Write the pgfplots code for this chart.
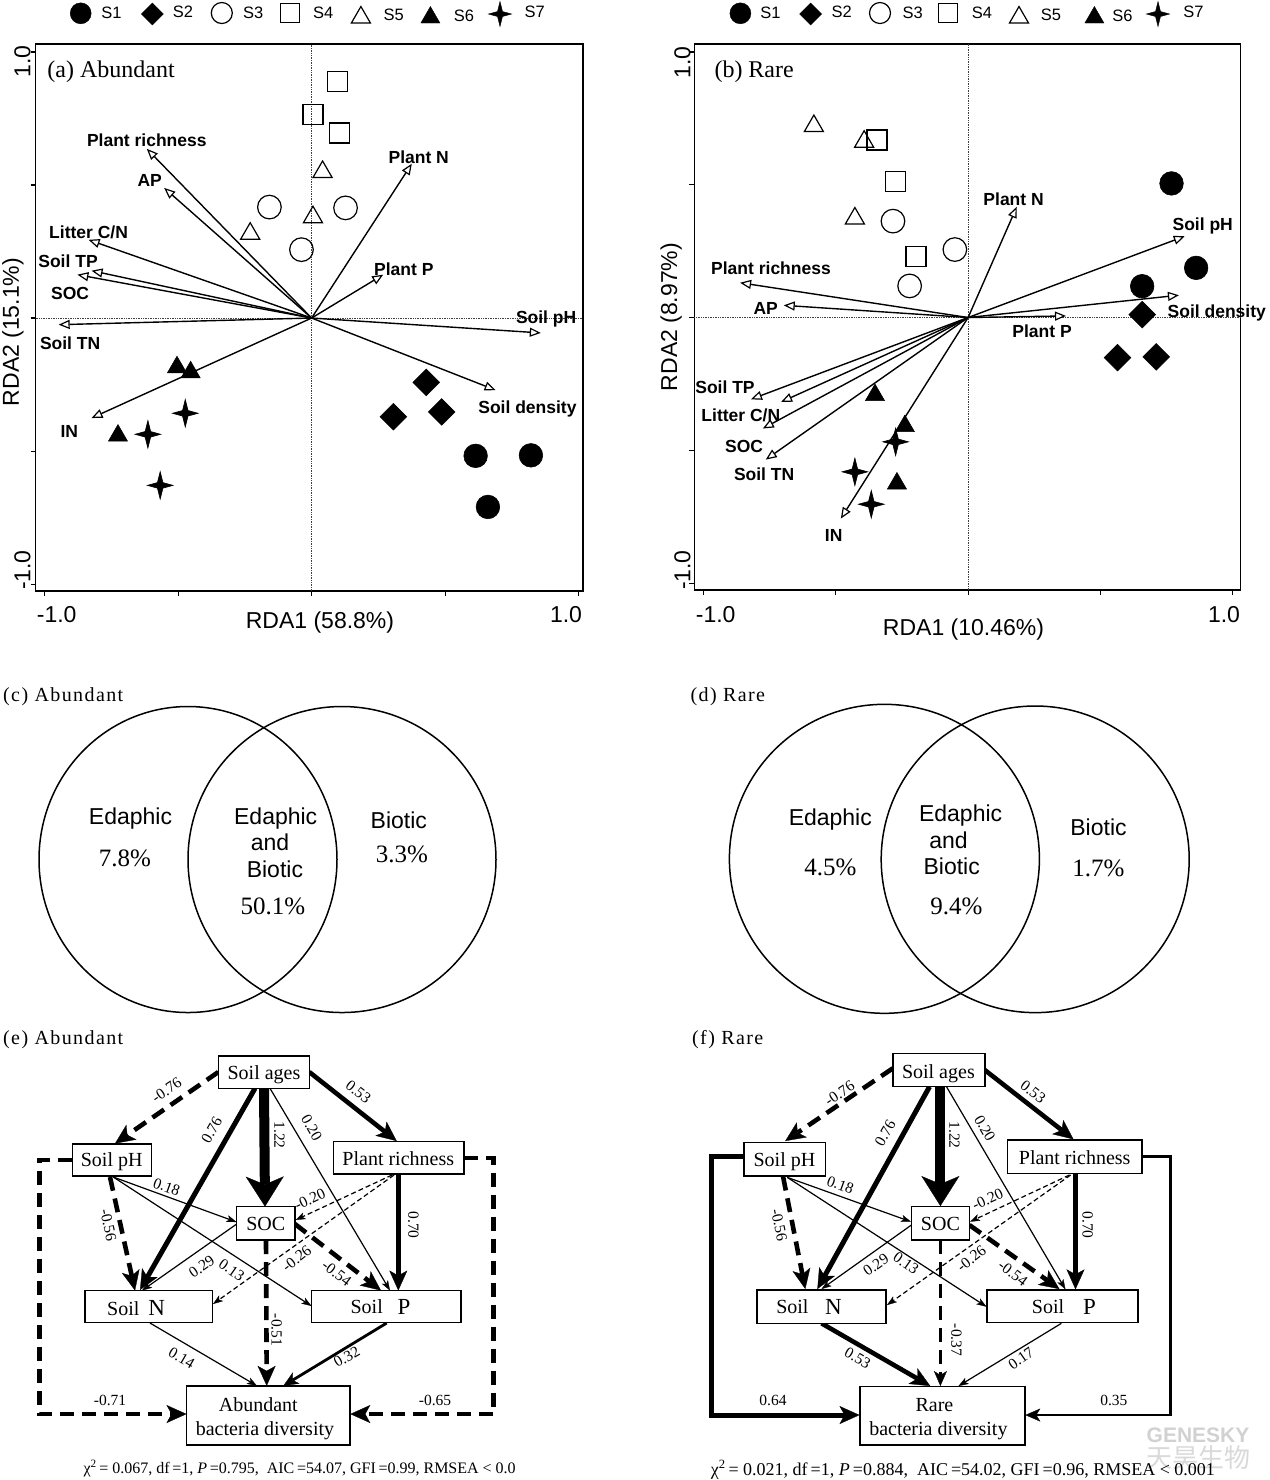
\documentclass[border=0pt]{standalone}
\usepackage{fontspec}
\setmainfont{Liberation Serif}
\newfontfamily\arial{Liberation Sans}
\newfontfamily\spaced[LetterSpace=7]{Liberation Serif}
\newfontfamily\cjk{Noto Sans CJK SC}
\usepackage{pgfplots}
\usepackage{pgfplotstable}
\pgfplotsset{compat=1.18}
\usetikzlibrary{arrows.meta}
\newcommand\fs[1]{\fontsize{#1}{#1}\selectfont}

\pgfdeclareplotmark{dia}{%
  \pgfpathmoveto{\pgfqpoint{0pt}{\pgfplotmarksize}}%
  \pgfpathlineto{\pgfqpoint{\pgfplotmarksize}{0pt}}%
  \pgfpathlineto{\pgfqpoint{0pt}{-\pgfplotmarksize}}%
  \pgfpathlineto{\pgfqpoint{-\pgfplotmarksize}{0pt}}%
  \pgfpathclose\pgfusepathqfillstroke}
\pgfdeclareplotmark{star4}{%
  \pgfpathmoveto{\pgfqpoint{0pt}{\pgfplotmarksize}}%
  \pgfpathlineto{\pgfqpoint{0.2\pgfplotmarksize}{0.2\pgfplotmarksize}}%
  \pgfpathlineto{\pgfqpoint{0.93\pgfplotmarksize}{0pt}}%
  \pgfpathlineto{\pgfqpoint{0.2\pgfplotmarksize}{-0.2\pgfplotmarksize}}%
  \pgfpathlineto{\pgfqpoint{0pt}{-\pgfplotmarksize}}%
  \pgfpathlineto{\pgfqpoint{-0.2\pgfplotmarksize}{-0.2\pgfplotmarksize}}%
  \pgfpathlineto{\pgfqpoint{-0.93\pgfplotmarksize}{0pt}}%
  \pgfpathlineto{\pgfqpoint{-0.2\pgfplotmarksize}{0.2\pgfplotmarksize}}%
  \pgfpathclose\pgfusepathqfillstroke}

% biplot vectors, panel (a)
\pgfplotstableread{
x y u v
0 0 -0.617 0.636
0 0 -0.552 0.489
0 0 -0.835 0.294
0 0 -0.824 0.178
0 0 -0.877 0.163
0 0 0.375 0.580
0 0 0.268 0.163
0 0 -0.947 -0.025
0 0 0.858 -0.056
0 0 0.689 -0.271
0 0 -0.824 -0.376
}\vecA
% biplot vectors, panel (b)
\pgfplotstableread{
x y u v
0 0 0.184 0.417
0 0 0.819 0.306
0 0 0.797 0.084
0 0 0.370 0.006
0 0 -0.862 0.131
0 0 -0.697 0.046
0 0 -0.821 -0.308
0 0 -0.707 -0.318
0 0 -0.776 -0.418
0 0 -0.765 -0.535
0 0 -0.481 -0.757
}\vecB

\pgfplotsset{
  rda/.style={anchor=north west, scale only axis, clip=false,
    tick pos=left, tick align=outside, major tick length=5pt,
    xtick={-1,-0.5,0,0.5,1}, ytick={-1,-0.5,0,0.5,1},
    xticklabels={}, yticklabels={},
    axis line style={line width=1.5pt, black},
    tick style={line width=1.1pt, black}},
  bivec/.style={black, line width=1.4pt, quiver={u=\thisrow{u}, v=\thisrow{v}},
    -{Triangle[length=11pt, width=9pt, fill=white, line width=1.2pt]}},
  s1/.style={only marks, mark=*, mark size=11.8pt, black, line width=0.6pt},
  s2/.style={only marks, mark=dia, mark size=13.3pt, black, line width=0.6pt, mark options={fill=black}},
  s3/.style={only marks, mark=o, mark size=11.8pt, black, line width=1.2pt},
  s4/.style={only marks, mark=square, mark size=10pt, black, line width=1.4pt},
  s5/.style={only marks, mark=triangle, mark size=11pt, black, line width=1.2pt},
  s6/.style={only marks, mark=triangle*, mark size=11pt, black, line width=0.6pt},
  s7/.style={only marks, mark=star4, mark size=13.8pt, black, line width=0.6pt, mark options={fill=black}},
}
\tikzset{
  lab/.style={font=\arial\bfseries\fs{17.5}, text height=12.5pt, text depth=0pt, inner sep=0pt},
  e1/.style={line width=1.2pt, -{Stealth[length=10pt,width=7pt,inset=2.5pt,line width=0.3pt]}},
  e2/.style={line width=2.8pt, -{Stealth[length=15pt,width=13pt,inset=4pt,line width=0.3pt]}},
  e3/.style={line width=4.6pt, -{Stealth[length=20pt,width=18pt,inset=5pt,line width=0.3pt]}},
  e4/.style={line width=10pt, -{Stealth[length=30pt,width=38pt,inset=8pt,line width=0.3pt]}},
  d1/.style={dash pattern=on 5pt off 3pt},
  d3/.style={dash pattern=on 14pt off 8pt},
  el/.style={font=\fs{15.5}, inner sep=0pt},
  bx/.style={line width=1.4pt, fill=white},
  bt/.style={font=\fs{20}, anchor=base, inner sep=0pt},
  ven/.style={font=\arial\fs{23}, anchor=base, inner sep=0pt},
  vpc/.style={font=\fs{25}, anchor=base, inner sep=0pt},
}

\begin{document}
\begin{tikzpicture}
\path[use as bounding box] (0pt,0pt) rectangle (1269pt,-1480pt);

% ---------------- panel (a)
\begin{axis}[rda, at={(35.7pt,-44pt)}, width=547.3pt, height=547pt,
  xmin=-1.033, xmax=1.016, ymin=-1.026, ymax=1.030]
\draw[densely dotted, black!75, line width=0.7pt] (axis cs:0,-1.026) -- (axis cs:0,1.030);
\draw[densely dotted, black!75, line width=0.7pt] (axis cs:-1.033,0) -- (axis cs:1.016,0);
\addplot[bivec] table {\vecA};
\addplot[s1] coordinates {(0.614,-0.518) (0.821,-0.516) (0.660,-0.710)};
\addplot[s2] coordinates {(0.429,-0.242) (0.306,-0.371) (0.487,-0.353)};
\addplot[s3] coordinates {(-0.158,0.417) (0.127,0.414) (-0.038,0.257)};
\addplot[s4] coordinates {(0.097,0.890) (0.005,0.765) (0.104,0.695)};
\addplot[s5] coordinates {(0.041,0.549) (0.005,0.379) (-0.230,0.317)};
\addplot[s6] coordinates {(-0.504,-0.185) (-0.453,-0.204) (-0.725,-0.442)};
\addplot[s7] coordinates {(-0.473,-0.358) (-0.613,-0.437) (-0.567,-0.629)};
\node[lab] at (axis cs:-0.617,0.668) {Plant richness};
\node[lab] at (axis cs:-0.606,0.517) {AP};
\node[lab] at (axis cs:-0.835,0.322) {Litter C/N};
\node[lab] at (axis cs:-0.912,0.212) {Soil TP};
\node[lab] at (axis cs:-0.904,0.094) {SOC};
\node[lab] at (axis cs:0.401,0.605) {Plant N};
\node[lab] at (axis cs:0.345,0.184) {Plant P};
\node[lab] at (axis cs:0.878,0.004) {Soil pH};
\node[lab] at (axis cs:-0.904,-0.095) {Soil TN};
\node[lab] at (axis cs:0.808,-0.334) {Soil density};
\node[lab] at (axis cs:-0.907,-0.427) {IN};
\end{axis}

% ---------------- panel (b)
\begin{axis}[rda, at={(694.3pt,-44pt)}, width=546pt, height=546pt,
  xmin=-1.035, xmax=1.029, ymin=-1.026, ymax=1.030]
\draw[densely dotted, black!75, line width=0.7pt] (axis cs:0,-1.026) -- (axis cs:0,1.030);
\draw[densely dotted, black!75, line width=0.7pt] (axis cs:-1.035,0) -- (axis cs:1.029,0);
\addplot[bivec] table {\vecB};
\addplot[s1] coordinates {(0.769,0.505) (0.862,0.187) (0.658,0.118)};
\addplot[s2] coordinates {(0.658,0.011) (0.565,-0.151) (0.711,-0.148)};
\addplot[s3] coordinates {(-0.284,0.363) (-0.050,0.256) (-0.221,0.119)};
\addplot[s4] coordinates {(-0.345,0.668) (-0.275,0.513) (-0.197,0.229)};
\addplot[s5] coordinates {(-0.583,0.721) (-0.393,0.662) (-0.428,0.373)};
\addplot[s6] coordinates {(-0.352,-0.292) (-0.239,-0.409) (-0.269,-0.625)};
\addplot[s7] coordinates {(-0.274,-0.468) (-0.428,-0.581) (-0.366,-0.703)};
\node[lab] at (axis cs:0.172,0.446) {Plant N};
\node[lab] at (axis cs:0.887,0.352) {Soil pH};
\node[lab] at (axis cs:0.940,0.025) {Soil density};
\node[lab] at (axis cs:0.280,-0.051) {Plant\hspace{5pt}P};
\node[lab] at (axis cs:-0.745,0.185) {Plant richness};
\node[lab] at (axis cs:-0.765,0.034) {AP};
\node[lab] at (axis cs:-0.919,-0.264) {Soil TP};
\node[lab] at (axis cs:-0.859,-0.368) {Litter C/N};
\node[lab] at (axis cs:-0.847,-0.483) {SOC};
\node[lab] at (axis cs:-0.771,-0.590) {Soil TN};
\node[lab] at (axis cs:-0.508,-0.820) {IN};
\end{axis}

% ---------------- canvas in pixel units
\begin{axis}[at={(0pt,0pt)}, anchor=north west, width=1269pt, height=1480pt,
  scale only axis, xmin=0, xmax=1269, ymin=0, ymax=1480, y dir=reverse,
  hide axis, clip=false]
% legends
\addplot[only marks, mark=*, mark size=10.5pt, black] coordinates {(80.7,13.3) (740.4,13.3)};
\addplot[only marks, mark=dia, mark size=11pt, black, mark options={fill=black}] coordinates {(152.3,14) (810.6,14)};
\addplot[only marks, mark=o, mark size=10.5pt, black, line width=1.2pt] coordinates {(221.8,13) (880,13)};
\addplot[only marks, mark=square, mark size=9.7pt, black, line width=1.4pt] coordinates {(290,13) (948,13)};
\addplot[only marks, mark=triangle, mark size=11pt, black, line width=1.2pt] coordinates {(360.9,17.5) (1019,17.5)};
\addplot[only marks, mark=triangle*, mark size=11pt, black] coordinates {(430.4,17.5) (1094.4,17.5)};
\addplot[only marks, mark=star4, mark size=12.5pt, black, mark options={fill=black}] coordinates {(500,14) (1158,14)};
\node[font=\arial\fs{16.5}, anchor=base, inner sep=0pt] at (111.4,18.3) {S1};
\node[font=\arial\fs{16.5}, anchor=base, inner sep=0pt] at (183,17.5) {S2};
\node[font=\arial\fs{16.5}, anchor=base, inner sep=0pt] at (253.3,18.3) {S3};
\node[font=\arial\fs{16.5}, anchor=base, inner sep=0pt] at (323.2,18) {S4};
\node[font=\arial\fs{16.5}, anchor=base, inner sep=0pt] at (393.6,20.7) {S5};
\node[font=\arial\fs{16.5}, anchor=base, inner sep=0pt] at (464,21) {S6};
\node[font=\arial\fs{16.5}, anchor=base, inner sep=0pt] at (534.7,17) {S7};
\node[font=\arial\fs{16.5}, anchor=base, inner sep=0pt] at (770.5,18.3) {S1};
\node[font=\arial\fs{16.5}, anchor=base, inner sep=0pt] at (841.8,17.5) {S2};
\node[font=\arial\fs{16.5}, anchor=base, inner sep=0pt] at (912.8,18.3) {S3};
\node[font=\arial\fs{16.5}, anchor=base, inner sep=0pt] at (982,18) {S4};
\node[font=\arial\fs{16.5}, anchor=base, inner sep=0pt] at (1051,20.7) {S5};
\node[font=\arial\fs{16.5}, anchor=base, inner sep=0pt] at (1122.5,21) {S6};
\node[font=\arial\fs{16.5}, anchor=base, inner sep=0pt] at (1193.4,17) {S7};
% panel titles
\node[font=\fs{24}, anchor=base west, inner sep=0pt] at (47.2,77.3) {(a) Abundant};
\node[font=\fs{24}, anchor=base west, inner sep=0pt] at (714.3,77.3) {(b) Rare};
% tick labels
\node[font=\arial\fs{23}, text height=16.5pt, text depth=0pt, inner sep=0pt] at (56.7,614.5) {-1.0};
\node[font=\arial\fs{23}, text height=16.5pt, text depth=0pt, inner sep=0pt] at (566,614.5) {1.0};
\node[font=\arial\fs{23}, text height=16.5pt, text depth=0pt, inner sep=0pt, rotate=90] at (22,61.5) {1.0};
\node[font=\arial\fs{23}, text height=16.5pt, text depth=0pt, inner sep=0pt, rotate=90] at (22,570) {-1.0};
\node[font=\arial\fs{23}, text height=16.5pt, text depth=0pt, inner sep=0pt] at (715.7,614.5) {-1.0};
\node[font=\arial\fs{23}, text height=16.5pt, text depth=0pt, inner sep=0pt] at (1224,614.5) {1.0};
\node[font=\arial\fs{23}, text height=16.5pt, text depth=0pt, inner sep=0pt, rotate=90] at (682,62.5) {1.0};
\node[font=\arial\fs{23}, text height=16.5pt, text depth=0pt, inner sep=0pt, rotate=90] at (682,570) {-1.0};
% axis titles
\node[font=\arial\fs{23}, anchor=base, inner sep=0pt] at (320,628.5) {RDA1 (58.8\%)};
\node[font=\arial\fs{23}, anchor=base, inner sep=0pt, rotate=90] at (19,332) {RDA2 (15.1\%)};
\node[font=\arial\fs{23}, anchor=base, inner sep=0pt] at (963.5,635) {RDA1 (10.46\%)};
\node[font=\arial\fs{23}, anchor=base, inner sep=0pt, rotate=90] at (677,317) {RDA2 (8.97\%)};

% ---------------- Venn (c)
\node[font=\spaced\fs{20}, anchor=base west, inner sep=0pt] at (3,701.7) {(c) Abundant};
\draw[line width=1.5pt] (188,859.5) ellipse [x radius=149pt, y radius=153pt];
\draw[line width=1.5pt] (342,859.5) ellipse [x radius=154pt, y radius=153pt];
\node[ven] at (130.5,824.9) {Edaphic};
\node[vpc] at (125,866.6) {7.8\%};
\node[ven] at (275.7,824.9) {Edaphic};
\node[ven] at (270,850.9) {and};
\node[ven] at (274.9,877.5) {Biotic};
\node[vpc] at (272.8,914) {50.1\%};
\node[ven] at (398.8,828.2) {Biotic};
\node[vpc] at (402,862.3) {3.3\%};
% ---------------- Venn (d)
\node[font=\spaced\fs{20}, anchor=base west, inner sep=0pt] at (690.4,701.7) {(d) Rare};
\draw[line width=1.5pt] (884.4,858.8) ellipse [x radius=155pt, y radius=154.5pt];
\draw[line width=1.5pt] (1035.2,859.3) ellipse [x radius=154pt, y radius=153.3pt];
\node[ven] at (830.3,825.9) {Edaphic};
\node[vpc] at (830.3,875) {4.5\%};
\node[ven] at (960.6,821.5) {Edaphic};
\node[ven] at (948.5,848.9) {and};
\node[ven] at (951.7,874.9) {Biotic};
\node[vpc] at (956.5,914) {9.4\%};
\node[ven] at (1098.5,835.9) {Biotic};
\node[vpc] at (1098.5,876.6) {1.7\%};

% ---------------- path diagram (e)
\node[font=\spaced\fs{20}, anchor=base west, inner sep=0pt] at (3,1044) {(e) Abundant};
\draw[e3,d3] (218.3,1072) -- (115,1143.5);
\draw[e3] (309.3,1072) -- (396.7,1141);
\draw[e3,line width=5pt] (255,1088.3) -- (140,1290);
\draw[e4] (264,1088.3) -- (265,1206.5);
\draw[e1] (270,1088.3) -- (390,1290.5);
\draw[e3] (398.3,1174) -- (398.3,1290.5);
\draw[e1,d1] (392,1175) -- (295.5,1220);
\draw[e1,d1] (394,1175) -- (213,1304);
\draw[e1] (113.3,1177) -- (236.5,1222);
\draw[e1] (113.3,1177) -- (311.5,1306);
\draw[e3,d3] (110,1177) -- (135,1290.5);
\draw[e1] (236.7,1224) -- (142,1290.5);
\draw[e3,d3] (295,1224) -- (381,1290.5);
\draw[e3,d3] (266,1240) -- (266.7,1385.8);
\draw[e1] (150,1323) -- (257,1385.8);
\draw[e2] (386.7,1323) -- (283.3,1385.8);
\draw[e3,d3] (72.3,1160) -- (39.3,1160) -- (39.3,1414) -- (186.5,1414);
\draw[e3,d3] (464,1158) -- (493.3,1158) -- (493.3,1414) -- (350.3,1414);
\draw[bx] (218.3,1056) rectangle (309.3,1088.3);
\draw[bx] (72.3,1144) rectangle (151.7,1176);
\draw[bx] (333.3,1141.7) rectangle (464,1174);
\draw[bx] (236.7,1206.7) rectangle (295,1240);
\draw[bx] (85,1290.7) rectangle (212.7,1322.7);
\draw[bx] (311.7,1290.7) rectangle (461,1322.7);
\draw[bx] (186.7,1386) rectangle (350,1445);
\node[bt] at (264,1079) {Soil ages};
\node[bt] at (111.7,1166.6) {Soil pH};
\node[bt] at (398.3,1165) {Plant richness};
\node[bt] at (265.7,1230) {SOC};
\node[bt] at (123.3,1315) {Soil};
\node[bt, font=\fs{23}] at (156.7,1315.5) {N};
\node[bt] at (366.7,1313.3) {Soil};
\node[bt, font=\fs{23}] at (404,1314) {P};
\node[bt] at (258.3,1411) {Abundant};
\node[bt] at (265,1435) {bacteria diversity};
\node[el, rotate=34] at (166.7,1090) {-0.76};
\node[el, rotate=-38] at (358.3,1091.7) {0.53};
\node[el, rotate=60] at (211.7,1130) {0.76};
\node[el, rotate=-90] at (279.3,1135) {1.22};
\node[el, rotate=-60] at (311.7,1128) {0.20};
\node[el, rotate=-90] at (413.3,1225) {0.70};
\node[el, rotate=25] at (310,1199.3) {-0.20};
\node[el, rotate=38] at (296.7,1258.3) {-0.26};
\node[el, rotate=-20] at (166.7,1187) {0.18};
\node[el, rotate=-35] at (231.7,1270) {0.13};
\node[el, rotate=-78] at (108.3,1225) {-0.56};
\node[el, rotate=35] at (201.7,1266.7) {0.29};
\node[el, rotate=-37] at (336.7,1273.3) {-0.54};
\node[el, rotate=-90] at (276.7,1330) {-0.51};
\node[el, rotate=-30] at (181.7,1358.3) {0.14};
\node[el, rotate=30] at (346.7,1356.7) {0.32};
\node[el] at (110,1400) {-0.71};
\node[el] at (435,1400) {-0.65};
\node[font=\fs{16}, anchor=base west, inner sep=0pt] at (83.3,1473.3) {χ\textsuperscript{2}\,= 0.067, df\,=1, \textit{P}\,=0.795,\ \ AIC\,=54.07, GFI\,=0.99, RMSEA < 0.0};

% ---------------- path diagram (f)
\node[font=\spaced\fs{20}, anchor=base west, inner sep=0pt] at (692,1044) {(f) Rare};
\node[font=\arial\bfseries\fs{21}, text=black!18, anchor=center, inner sep=0pt] at (1198,1435) {GENESKY};
\node[font=\cjk\fs{26}, text=black!15, anchor=center, inner sep=0pt] at (1198,1458) {天昊生物};
\draw[e3,d3] (892.8,1068.3) -- (785.2,1141);
\draw[e3] (984.8,1070) -- (1073.5,1139.3);
\draw[e3,line width=5pt] (929.5,1086.7) -- (817.4,1289);
\draw[e4] (940.4,1086.7) -- (940.4,1206);
\draw[e1] (946.5,1086.7) -- (1065.4,1289.3);
\draw[e3] (1075.5,1173.3) -- (1075.5,1289.3);
\draw[e1,d1] (1069.4,1175) -- (970,1221.7);
\draw[e1,d1] (1070.6,1175) -- (887,1305);
\draw[e1] (787.2,1177.3) -- (911,1221.7);
\draw[e1] (787.2,1177.3) -- (986.5,1306.7);
\draw[e3,d3] (783.1,1176.7) -- (805.3,1289);
\draw[e1] (911.4,1225) -- (821.5,1289);
\draw[e3,d3] (969.4,1225) -- (1059.4,1289);
\draw[e2,line width=3pt,d3] (940.4,1240) -- (940.4,1386);
\draw[e3] (821.5,1323.3) -- (930.3,1386);
\draw[e1] (1061.4,1323.3) -- (958.5,1386);
\draw[e3,line width=5pt] (744,1156.7) -- (711.8,1156.7) -- (711.8,1415) -- (859.5,1415);
\draw[e2] (1142,1156.7) -- (1170.2,1156.7) -- (1170.2,1415) -- (1025.3,1415);
\draw[bx] (892.8,1053.3) rectangle (984.8,1086.7);
\draw[bx] (744,1142.3) rectangle (825.5,1176);
\draw[bx] (1007.7,1140) rectangle (1142,1173.3);
\draw[bx] (911.4,1206.7) rectangle (969.4,1240);
\draw[bx] (757,1290) rectangle (886,1323.3);
\draw[bx] (986.8,1290) rectangle (1138,1322.7);
\draw[bx] (859.8,1386.7) rectangle (1025,1445);
\node[bt] at (938.4,1078.3) {Soil ages};
\node[bt] at (784.4,1166) {Soil pH};
\node[bt] at (1074.7,1164.3) {Plant richness};
\node[bt] at (940.4,1230) {SOC};
\node[bt] at (792.4,1313.3) {Soil};
\node[bt, font=\fs{23}] at (833.5,1314) {N};
\node[bt] at (1048,1313.3) {Soil};
\node[bt, font=\fs{23}] at (1089.6,1314) {P};
\node[bt] at (934.4,1411.6) {Rare};
\node[bt] at (938.4,1435) {bacteria diversity};
\node[el, rotate=34] at (839.6,1093.3) {-0.76};
\node[el, rotate=-38] at (1033.1,1091.7) {0.53};
\node[el, rotate=60] at (885.2,1133.3) {0.76};
\node[el, rotate=-90] at (954.5,1135) {1.22};
\node[el, rotate=-60] at (984.8,1128.3) {0.20};
\node[el, rotate=-90] at (1087.6,1225) {0.70};
\node[el, rotate=25] at (987.6,1199.3) {-0.20};
\node[el, rotate=38] at (971.5,1258.3) {-0.26};
\node[el, rotate=-20] at (840.4,1185) {0.18};
\node[el, rotate=-35] at (906.1,1263.3) {0.13};
\node[el, rotate=-78] at (779.1,1225) {-0.56};
\node[el, rotate=35] at (875.9,1265) {0.29};
\node[el, rotate=-37] at (1013,1273.3) {-0.54};
\node[el, rotate=-90] at (956.5,1340) {-0.37};
\node[el, rotate=-30] at (857.7,1358.3) {0.53};
\node[el, rotate=35] at (1021,1358.3) {0.17};
\node[el] at (773,1400) {0.64};
\node[el] at (1113.8,1400) {0.35};
\node[font=\fs{18}, anchor=base west, inner sep=0pt] at (710.6,1475) {χ\textsuperscript{2}\,= 0.021, df\,=1, \textit{P}\,=0.884,\ \ AIC\,=54.02, GFI\,=0.96, RMSEA < 0.001};
\end{axis}
\end{tikzpicture}
\end{document}
